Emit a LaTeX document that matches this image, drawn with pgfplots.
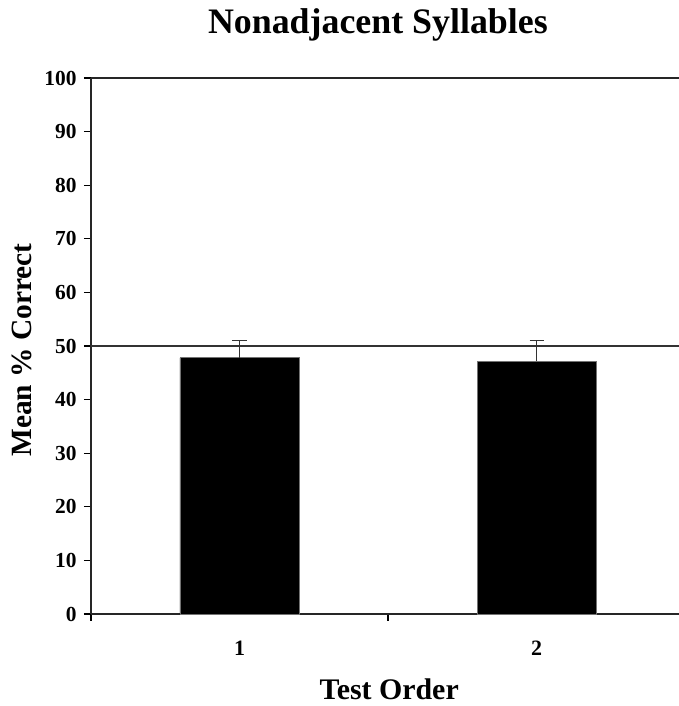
\documentclass[border=0pt]{standalone}
\usepackage{pgfplots}
\pgfplotsset{compat=1.18}
\usepackage{fontspec}
\setmainfont{Liberation Serif}
\begin{document}
\begin{tikzpicture}
\begin{axis}[
  at={(0,0)}, anchor=south west,
  scale only axis,
  width=594bp, height=536bp,
  xmin=0.5, xmax=2.5,
  ymin=0, ymax=100,
  axis lines*=left,
  axis line style={line width=1.2bp, black!85},
  ytick={0,10,...,100},
  xtick={0.5,1.5},
  xticklabels={,},
  extra x ticks={1,2},
  extra x tick labels={1,2},
  extra x tick style={major tick length=0pt},
  tick align=outside,
  major tick length=7bp,
  tick style={line width=1.2bp, black},
  /pgf/number format/assume math mode=true,
  yticklabel style={font=\fontsize{21.5}{24}\selectfont\bfseries, anchor=east, xshift=-4bp},
  xticklabel style={font=\fontsize{22}{24}\selectfont\bfseries, anchor=base, yshift=-41bp},
  ybar, bar width=119bp,
  title={\fontsize{36}{42}\selectfont\bfseries Nonadjacent Syllables},
  title style={at={(axis description cs:0.483,1.071)}, anchor=base},
  xlabel={\fontsize{30}{34}\selectfont\bfseries Test Order},
  xlabel style={at={(axis description cs:0.502,-0.140)}, anchor=center},
  ylabel={\fontsize{29.5}{34}\selectfont\bfseries Mean \% Correct},
  ylabel style={at={(axis description cs:-0.116,0.4925)}, anchor=center, rotate=0},
  clip=false,
]
\addplot[fill=black, draw=black!55, line width=0.8bp,
  error bars/.cd, y dir=plus, y explicit,
  error bar style={line width=1.2bp, black!80},
  error mark options={rotate=90, mark size=7bp, line width=1.2bp, black!80}]
  coordinates {(1,47.8) +- (0,3.2) (2,47.2) +- (0,3.8)};
\draw[line width=1.2bp, black!80] (axis cs:0.5,50) -- (axis cs:2.5,50);
\draw[line width=1.2bp, black!85] (axis cs:0.5,100) -- (axis cs:2.5,100);
\end{axis}
\pgfresetboundingbox
\path[use as bounding box] (-91bp,-92bp) rectangle (588bp,614bp);
\end{tikzpicture}
\end{document}
